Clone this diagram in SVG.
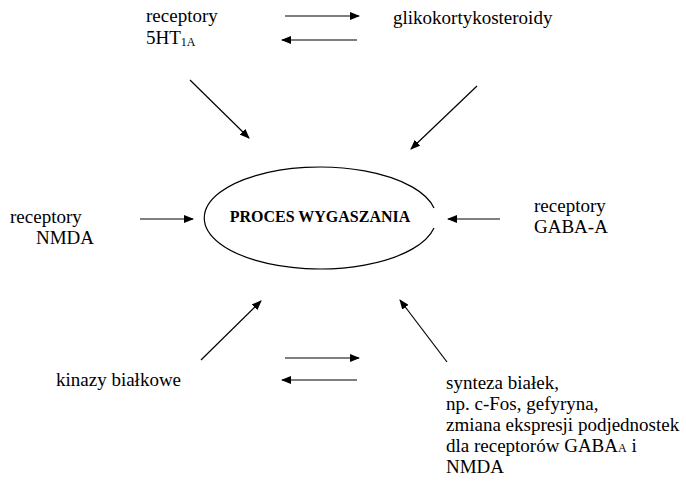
<svg xmlns="http://www.w3.org/2000/svg" width="686" height="490" viewBox="0 0 686 490">
<style>
text{font-family:'Liberation Serif','DejaVu Serif',serif;font-size:19px;fill:#000}
.b{font-weight:bold;font-size:16px}
.s{font-size:12px}
.c{stroke:#000;stroke-width:1.2;fill:none;marker-end:url(#ah)}
.e{stroke:#000;stroke-width:1.2;fill:none}
</style>
<defs>
<marker id="ah" markerWidth="10" markerHeight="8" refX="9" refY="4" orient="auto" markerUnits="userSpaceOnUse">
<path d="M0,0 L10,4 L0,8 Z" fill="#000"/>
</marker>
</defs>
<rect width="686" height="490" fill="#fff"/>
<g id="center">
<path class="e" d="M434,208 A116,51 0 1 0 434,228"/>
<text class="b" x="320" y="222" text-anchor="middle">PROCES WYGASZANIA</text>
</g>
<g id="r5ht">
<text x="146" y="22">receptory</text>
<text x="146" y="44">5HT<tspan class="s" dy="2">1A</tspan></text>
</g>
<g id="gliko">
<text x="393" y="24">glikokortykosteroidy</text>
</g>
<g id="nmda">
<text x="10" y="223">receptory</text>
<text x="36" y="244">NMDA</text>
</g>
<g id="gaba">
<text x="534" y="212">receptory</text>
<text x="534" y="233">GABA-A</text>
</g>
<g id="kinazy">
<text x="56" y="386">kinazy białkowe</text>
</g>
<g id="synteza">
<text x="446" y="389">synteza białek,</text>
<text x="446" y="410">np. c-Fos, gefyryna,</text>
<text x="446" y="431">zmiana ekspresji podjednostek</text>
<text x="446" y="452">dla receptorów GABA<tspan class="s">A</tspan> i</text>
<text x="446" y="473">NMDA</text>
</g>
<g id="connectors">
<line class="c" x1="285" y1="16" x2="359" y2="16"/>
<line class="c" x1="357" y1="40" x2="282" y2="40"/>
<line class="c" x1="285" y1="358" x2="359" y2="358"/>
<line class="c" x1="357" y1="380" x2="282" y2="380"/>
<line class="c" x1="140" y1="219" x2="193" y2="219"/>
<line class="c" x1="500" y1="219" x2="448" y2="219"/>
<line class="c" x1="190" y1="80" x2="249" y2="138"/>
<line class="c" x1="477" y1="86" x2="411" y2="149"/>
<line class="c" x1="201" y1="360" x2="261" y2="301"/>
<line class="c" x1="447" y1="362" x2="400" y2="300"/>
</g>
</svg>
